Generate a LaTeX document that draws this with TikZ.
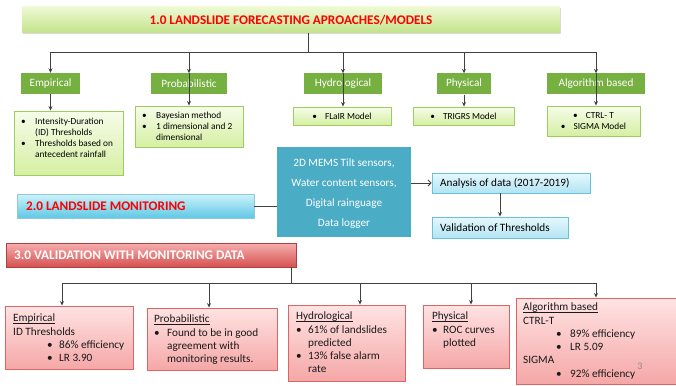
\documentclass[tikz,border=0pt]{standalone}
\usepackage{fontspec}
\setmainfont{Carlito}
\usetikzlibrary{arrows.meta,shadows,calc}
\definecolor{catgreen}{HTML}{76B041}
\definecolor{dettop}{HTML}{F6FCEA}
\definecolor{detbot}{HTML}{D5EFA2}
\definecolor{detline}{HTML}{9DCC5F}
\definecolor{titletop}{HTML}{EEF9D4}
\definecolor{titlebot}{HTML}{C2E389}
\definecolor{sensblue}{HTML}{4BACC6}
\definecolor{montop}{HTML}{CDF3FC}
\definecolor{monbot}{HTML}{5FC8E4}
\definecolor{anatop}{HTML}{E6F8FD}
\definecolor{anabot}{HTML}{B2E4F3}
\definecolor{analine}{HTML}{6BC0DA}
\definecolor{valtop}{HTML}{F6AFAF}
\definecolor{valbot}{HTML}{D65150}
\definecolor{pinktop}{HTML}{FFE3E3}
\definecolor{pinkbot}{HTML}{F5A7A7}
\definecolor{pinkline}{HTML}{E06464}
\definecolor{linegray}{HTML}{404040}
\definecolor{titlered}{HTML}{FF0000}
\definecolor{pagegray}{HTML}{8C8C8C}
\newcommand{\fsA}{\fontsize{11.2}{13.3}\selectfont}
\newcommand{\fsB}{\fontsize{9.3}{11}\selectfont}
\newcommand{\fsH}{\fontsize{13.2}{15}\selectfont\bfseries}
\newcommand{\myul}[1]{\setbox0\hbox{#1}\rlap{\rule[-1.8pt]{\wd0}{0.55pt}}\box0}
\begin{document}
\begin{tikzpicture}[x=1pt,y=-1pt,
  line/.style={draw=linegray, line width=0.8pt},
  arr/.style={line, -{Stealth[length=4.5pt,width=4pt]}},
  openarr/.style={line, -{Straight Barb[length=3pt,width=6pt]}},
  shad/.style={drop shadow={shadow xshift=1pt, shadow yshift=-1.2pt, opacity=0.3}},
  titlebar/.style={top color=titletop, bottom color=titlebot, inner sep=0, shad},
  cat/.style={fill=catgreen, text=white, inner sep=0, minimum height=21, font=\fsA},
  det/.style={draw=detline, line width=0.9pt, top color=dettop, bottom color=detbot, inner sep=0},
  dettext/.style={inner sep=0, font=\fsB},
  monbar/.style={top color=montop, bottom color=monbot, draw=monbot!80!black!60, line width=0.4pt, inner sep=0, shad},
  anabox/.style={top color=anatop, bottom color=anabot, draw=analine, line width=0.9pt, inner sep=0, shad},
  valbar/.style={top color=valtop, bottom color=valbot, draw=valbot!80!black, line width=0.4pt, inner sep=0, shad},
  pinkbox/.style={top color=pinktop, bottom color=pinkbot, draw=pinkline, line width=0.9pt, inner sep=0, shad},
  btext/.style={anchor=north west, inner sep=0, font=\fsA, text=black!90}
]
\useasboundingbox (0,0) rectangle (676,385);

% ---------- 1.0 ----------
\node[titlebar, minimum width=538, minimum height=26, font=\fsH, text=titlered] (title) at (291,20) {1.0 LANDSLIDE FORECASTING APROACHES/MODELS};

\node[cat, minimum width=59] (cemp) at (50.5,83.5) {Empirical};
\node[cat, minimum width=76] (cprob) at (189,84) {Probabilistic};
\node[cat, minimum width=78] (chyd) at (343,84) {Hydrological};
\node[cat, minimum width=54] (cphy) at (464,84) {Physical};
\node[cat, minimum width=98] (calg) at (596,84) {Algorithm based};

\node[det, minimum width=109, minimum height=64] (demp) at (68.5,143) {};
\node[det, minimum width=108, minimum height=41] (dprob) at (189,126.5) {};
\node[det, minimum width=98, minimum height=18] (dhyd) at (342,116) {};
\node[det, minimum width=101, minimum height=18] (dphy) at (463.5,116) {};
\node[det, minimum width=93, minimum height=30] (dalg) at (593.5,121) {};

\node[dettext, anchor=north west] (temp) at (21,116.3) {\begin{tabular}{@{}p{14pt}@{}l@{}}\textbullet & Intensity-Duration\\ & (ID) Thresholds\\ \textbullet & Thresholds based on\\ & antecedent rainfall\end{tabular}};
\node[dettext, anchor=north west] (tprob) at (142,110.3) {\begin{tabular}{@{}p{14pt}@{}l@{}}\textbullet & Bayesian method\\ \textbullet & 1 dimensional and 2\\ & dimensional\end{tabular}};
\node[dettext] (thyd) at (dhyd) {\textbullet\hspace{8pt}FLaIR Model};
\node[dettext] (tphy) at (dphy) {\textbullet\hspace{8pt}TRIGRS Model};
\node[dettext, align=center] (talg) at (dalg) {\textbullet\hspace{8pt}CTRL- T\\\textbullet\hspace{8pt}SIGMA Model};

\coordinate (ts) at (308,52);
\draw[line] (title.south -| ts) -- (ts);
\draw[line] (cemp.north |- ts) -- (calg.north |- ts);
\foreach \c in {cemp,cprob,chyd,cphy,calg}{
  \draw[arr] (\c.north |- ts) -- (\c.north);
}
\draw[arr] (cemp.south) -- (cemp.south |- demp.north);
\draw[arr] (cprob.north) -- (cprob.north |- dprob.north);
\draw[arr] (chyd.north) -- (chyd.north |- dhyd.north);
\draw[arr] (cphy.south) -- (cphy.south |- dphy.north);
\draw[arr] (calg.north) -- (calg.north |- dalg.north);

% ---------- 2.0 ----------
\node[fill=sensblue, minimum width=134, minimum height=90, inner sep=0] (sens) at (344,192) {};
\node[text=white, font=\fontsize{11.2}{20}\selectfont, align=center, inner sep=0] (senstext) at (344,194) {2D MEMS Tilt sensors,\\Water content sensors,\\Digital rainguage\\Data logger};

\node[monbar, minimum width=237, minimum height=24] (mon) at (135.5,206) {};
\node[anchor=west, font=\fsH, text=titlered, inner sep=0] (montext) at (26,206.5) {2.0 LANDSLIDE MONITORING};
\draw[line] (mon.east) -- (mon.east -| sens.west);

\node[anabox, minimum width=158, minimum height=20] (ana) at (511,183) {};
\node[anchor=west, font=\fsA, inner sep=0] (anatext) at (440,183) {Analysis of data (2017-2019)};
\node[anabox, minimum width=136, minimum height=21] (val) at (500,227.5) {};
\node[anchor=west, font=\fsA, inner sep=0] (valtext) at (440,228) {Validation of Thresholds};
\draw[openarr] (sens.east |- ana.west) -- (ana.west);
\draw[arr] (val.north |- ana.south) -- (val.north);

% ---------- 3.0 ----------
\node[valbar, minimum width=290, minimum height=24] (vbar) at (151,255) {};
\node[anchor=west, font=\fsH, text=white, inner sep=0] (vtext) at (14,255.5) {3.0 VALIDATION WITH MONITORING DATA};

\node[pinkbox, minimum width=128, minimum height=63] (be) at (69,337.5) {};
\node[pinkbox, minimum width=130, minimum height=62] (bp) at (212,339) {};
\node[pinkbox, minimum width=117, minimum height=76] (bh) at (346.5,343) {};
\node[pinkbox, minimum width=86, minimum height=63] (bph) at (466,336.5) {};
\node[pinkbox, minimum width=166, minimum height=86] (ba) at (599,341) {};

\coordinate (bs) at (291,283);
\coordinate (a1) at (62,283);
\coordinate (a2) at (209,283);
\coordinate (a3) at (360,283);
\coordinate (a4) at (471,283);
\coordinate (a5) at (596,283);
\draw[line] (vbar.south -| bs) -- (bs);
\draw[line] (a1) -- (a5);
\draw[arr] (a1) -- (a1 |- be.north);
\draw[arr] (a2) -- (a2 |- bp.north);
\draw[arr] (a3) -- (a3 |- bh.north);
\draw[arr] (a4) -- (a4 |- bph.north);
\draw[arr] (a5) -- (a5 |- ba.north);

\node[btext] (tbe) at (13,312.2) {\begin{tabular}{@{}p{34pt}@{}p{12pt}@{}l@{}}\multicolumn{3}{@{}l@{}}{\myul{Empirical}}\\ \multicolumn{3}{@{}l@{}}{ID Thresholds}\\ & \textbullet & 86\% efficiency\\ & \textbullet & LR 3.90\end{tabular}};
\node[btext] (tbp) at (154,313.2) {\begin{tabular}{@{}p{13pt}@{}l@{}}\multicolumn{2}{@{}l@{}}{\myul{Probabilistic}}\\ \textbullet & Found to be in good\\ & agreement with\\ & monitoring results.\end{tabular}};
\node[btext] (tbh) at (296,310.2) {\begin{tabular}{@{}p{12pt}@{}l@{}}\multicolumn{2}{@{}l@{}}{\myul{Hydrological}}\\ \textbullet & 61\% of landslides\\ & predicted\\ \textbullet & 13\% false alarm\\ & rate\end{tabular}};
\node[btext] (tbph) at (432,310.2) {\begin{tabular}{@{}p{11pt}@{}l@{}}\multicolumn{2}{@{}l@{}}{\myul{Physical}}\\ \textbullet & ROC curves\\ & plotted\end{tabular}};
\node[btext] (tba) at (523,301.2) {\begin{tabular}{@{}p{33pt}@{}p{14pt}@{}l@{}}\multicolumn{3}{@{}l@{}}{\myul{Algorithm based}}\\ \multicolumn{3}{@{}l@{}}{CTRL-T}\\ & \textbullet & 89\% efficiency\\ & \textbullet & LR 5.09\\ \multicolumn{3}{@{}l@{}}{SIGMA}\\ & \textbullet & 92\% efficiency\end{tabular}};
\node[font=\fontsize{10}{12}\selectfont, text=pagegray, inner sep=0] (pnum) at (640,366) {3};
\end{tikzpicture}
\end{document}
